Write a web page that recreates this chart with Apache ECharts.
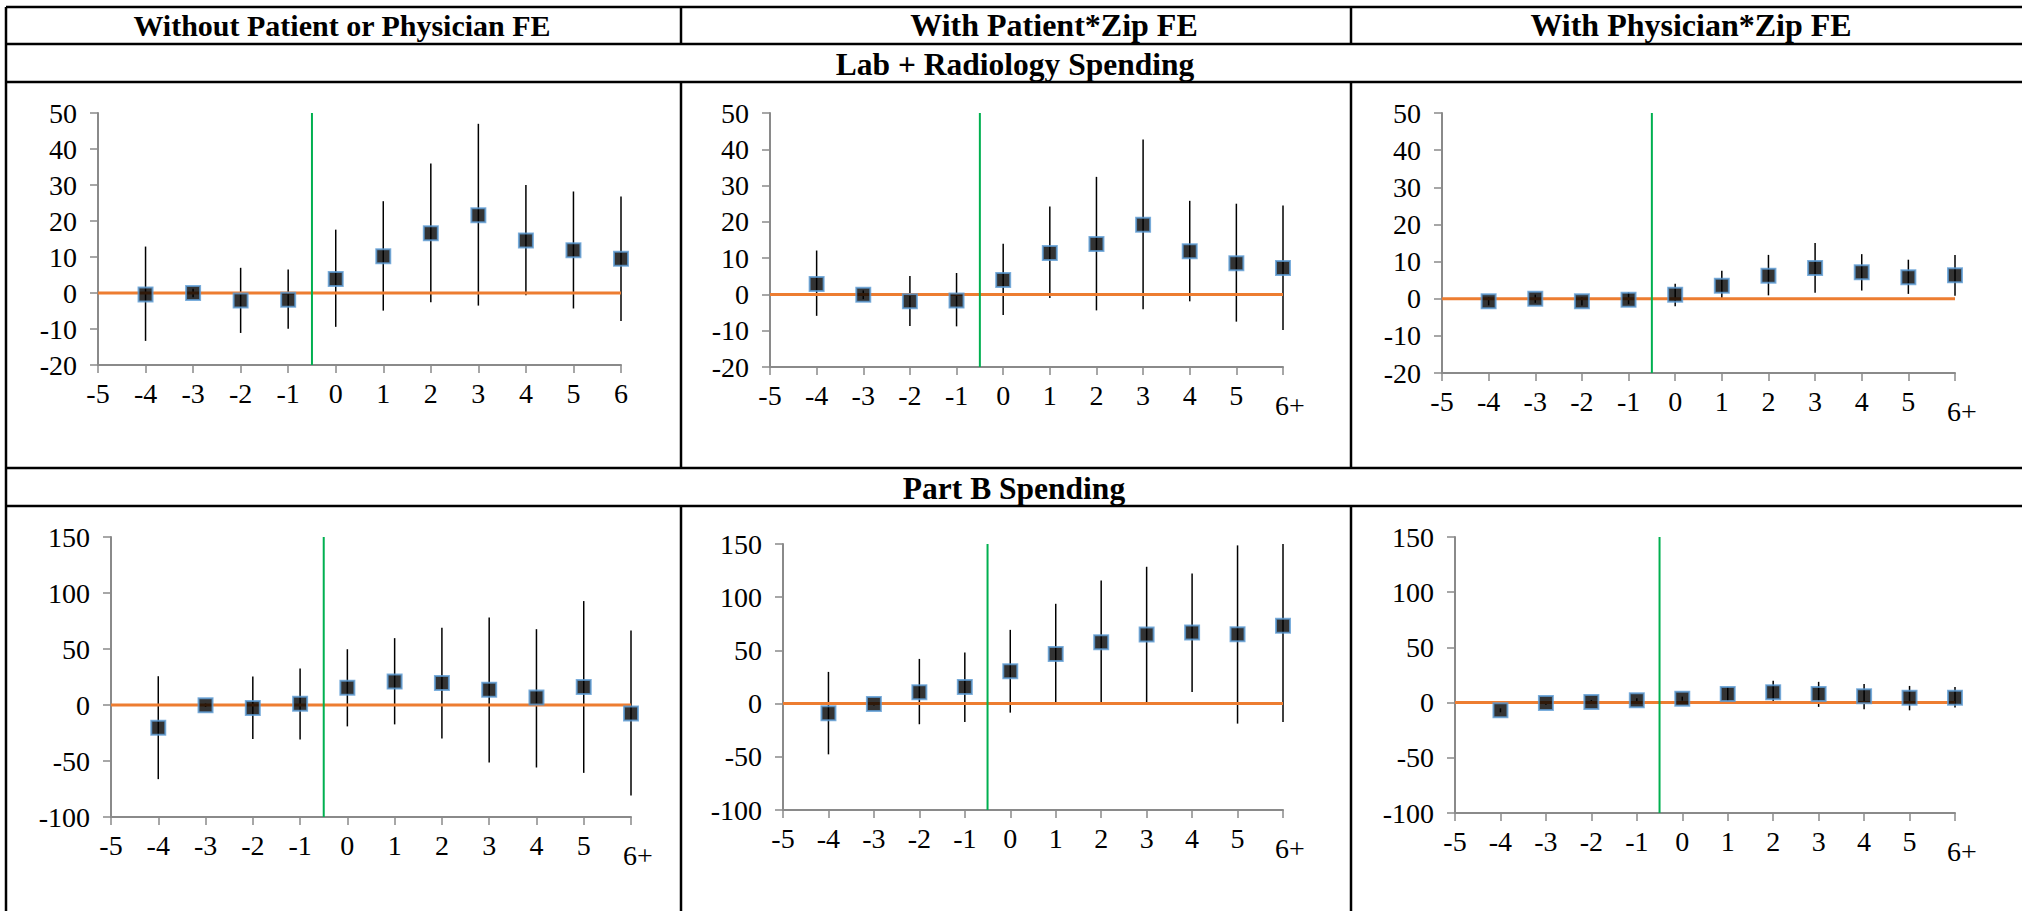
<!DOCTYPE html>
<html>
<head>
<meta charset="utf-8">
<title>Event-study estimates: Lab + Radiology and Part B spending</title>
<script src="https://cdn.jsdelivr.net/npm/echarts@6/dist/echarts.min.js"></script>
<style>
  html, body { margin: 0; padding: 0; background: #ffffff; }
  #chart { width: 2022px; height: 911px; }
</style>
</head>
<body>
<div id="chart"></div>
<script>
// Event time (years relative to the switch) and axis tick labels
const periods = [-4, -3, -2, -1, 0, 1, 2, 3, 4, 5, 6];
const xTicksPlain = ['-5', '-4', '-3', '-2', '-1', '0', '1', '2', '3', '4', '5', '6'];
const xTicksPlus  = ['-5', '-4', '-3', '-2', '-1', '0', '1', '2', '3', '4', '5', '6+'];

const columnTitles = ['Without Patient or Physician FE', 'With Patient*Zip FE', 'With Physician*Zip FE'];
const sectionTitles = ['Lab + Radiology Spending', 'Part B Spending'];

// Lab + Radiology spending: point estimates and 95% CI bounds
const labNoFE    = [-0.4, 0.0, -2.1, -1.9, 3.9, 10.2, 16.6, 21.6, 14.6, 11.9, 9.5];
const labNoFELo  = [-13.3, -1.2, -11.1, -9.9, -9.4, -4.9, -2.6, -3.5, -0.6, -4.3, -7.8];
const labNoFEHi  = [12.9, 1.2, 7.0, 6.5, 17.6, 25.5, 36.0, 47.0, 30.0, 28.2, 26.8];

const labPat     = [2.9, -0.1, -1.9, -1.7, 4.0, 11.4, 13.9, 19.2, 11.9, 8.6, 7.3];
const labPatLo   = [-5.9, -1.3, -8.7, -8.8, -5.7, -1.0, -4.4, -4.1, -1.9, -7.5, -9.8];
const labPatHi   = [12.1, 1.1, 5.1, 5.9, 14.0, 24.2, 32.4, 42.7, 25.8, 25.0, 24.5];

const labPhy     = [-0.7, 0.0, -0.7, -0.3, 1.1, 3.5, 6.2, 8.3, 7.1, 5.8, 6.3];
const labPhyLo   = [-1.8, -1.1, -1.8, -1.5, -2.0, 0.0, 0.9, 1.6, 2.2, 1.3, 0.8];
const labPhyHi   = [0.4, 1.1, 0.4, 1.7, 4.0, 7.5, 11.8, 15.0, 12.0, 10.5, 11.8];

// Part B spending: point estimates and 95% CI bounds
const partBNoFE   = [-20.3, -0.3, -2.7, 1.2, 15.5, 20.9, 19.7, 13.7, 6.6, 16.1, -7.5];
const partBNoFELo = [-66.2, -1.8, -30.4, -30.7, -19.1, -17.3, -29.8, -51.3, -55.8, -60.6, -80.8];
const partBNoFEHi = [25.7, 1.3, 25.4, 32.5, 49.8, 59.7, 68.9, 78.2, 67.7, 92.8, 66.5];

const partBPat    = [-9.1, -0.3, 10.7, 15.7, 30.4, 46.7, 57.7, 64.9, 66.8, 65.2, 73.1];
const partBPatLo  = [-47.7, -1.8, -19.4, -17.3, -8.5, 0.6, 0.6, 1.3, 11.0, -18.8, -17.3];
const partBPatHi  = [29.8, 1.3, 42.0, 48.0, 69.3, 93.8, 115.7, 128.6, 122.3, 148.7, 150.0];

const partBPhy    = [-7.0, -0.3, 0.6, 2.1, 3.6, 7.9, 9.4, 7.9, 5.8, 4.5, 4.5];
const partBPhyLo  = [-8.8, -2.0, -1.2, 0.3, 1.8, 0.6, 0.6, -3.9, -6.1, -7.0, -4.5];
const partBPhyHi  = [-5.2, 1.5, 2.4, 3.9, 5.4, 14.2, 19.7, 18.8, 16.9, 15.1, 14.2];

// Y-axis ranges for the two outcome rows
const labRange   = { min: -20, max: 50, interval: 10 };
const partBRange = { min: -100, max: 150, interval: 50 };

// Panel placement on the page (pixels)
const panels = [
  { est: labNoFE,   lo: labNoFELo,   hi: labNoFEHi,   ticks: xTicksPlain, range: labRange,   box: [98, 113, 523, 252] },
  { est: labPat,    lo: labPatLo,    hi: labPatHi,    ticks: xTicksPlus,  range: labRange,   box: [770, 113, 513, 254] },
  { est: labPhy,    lo: labPhyLo,    hi: labPhyHi,    ticks: xTicksPlus,  range: labRange,   box: [1442, 113, 513, 260] },
  { est: partBNoFE, lo: partBNoFELo, hi: partBNoFEHi, ticks: xTicksPlus,  range: partBRange, box: [111, 537, 520, 280] },
  { est: partBPat,  lo: partBPatLo,  hi: partBPatHi,  ticks: xTicksPlus,  range: partBRange, box: [783, 544, 500, 266] },
  { est: partBPhy,  lo: partBPhyLo,  hi: partBPhyHi,  ticks: xTicksPlus,  range: partBRange, box: [1455, 537, 500, 276] }
];

const FONT = 'Liberation Serif, Times New Roman, serif';
const TICK_FONT_SIZE = 28;
const AXIS_GREY = '#8a8a8a';
const ORANGE = '#ED7D31';
const GREEN = '#00B050';

// Every tick label goes through the same rich style so size and face are explicit
const tickRich = {
  t:    { fontSize: TICK_FONT_SIZE, fontFamily: FONT, color: '#000' },
  plus: { fontSize: TICK_FONT_SIZE, fontFamily: FONT, color: '#000', padding: [10, 0, 0, 14] }
};

const grids = [], xAxes = [], yAxes = [], series = [];

panels.forEach((p, k) => {
  const [left, top, width, height] = p.box;
  grids.push({ left, top, width, height, containLabel: false });

  const labels = p.ticks;
  xAxes.push({
    gridIndex: k, type: 'value', min: -5, max: 6, interval: 1,
    axisLine: { onZero: false, lineStyle: { color: AXIS_GREY, width: 2 } },
    axisTick: { show: true, length: 8, lineStyle: { color: AXIS_GREY, width: 1.5 } },
    splitLine: { show: false },
    axisLabel: {
      margin: 14, color: '#000', fontSize: TICK_FONT_SIZE, fontFamily: FONT,
      formatter: v => {
        const s = labels[Math.round(v) + 5];
        return s === '6+' ? '{plus|6+}' : '{t|' + s + '}';
      },
      rich: tickRich
    }
  });

  yAxes.push({
    gridIndex: k, type: 'value',
    min: p.range.min, max: p.range.max, interval: p.range.interval,
    axisLine: { show: true, onZero: false, lineStyle: { color: AXIS_GREY, width: 2 } },
    axisTick: { show: true, length: 8, lineStyle: { color: AXIS_GREY, width: 1.5 } },
    splitLine: { show: false },
    axisLabel: {
      margin: 21, color: '#000', fontSize: TICK_FONT_SIZE, fontFamily: FONT,
      formatter: v => '{t|' + v + '}',
      rich: tickRich
    }
  });

  // Confidence-interval whiskers
  series.push({
    type: 'custom', xAxisIndex: k, yAxisIndex: k, z: 2, silent: true,
    encode: { x: 0, y: [1, 2] },
    data: periods.map((t, i) => [t, p.lo[i], p.hi[i]]),
    renderItem: (params, api) => {
      const a = api.coord([api.value(0), api.value(1)]);
      const b = api.coord([api.value(0), api.value(2)]);
      return {
        type: 'line',
        shape: { x1: a[0], y1: a[1], x2: b[0], y2: b[1] },
        style: { stroke: '#000', lineWidth: 1.5 }
      };
    }
  });

  // Zero reference line
  series.push({
    type: 'line', xAxisIndex: k, yAxisIndex: k, z: 3, silent: true,
    symbol: 'none', data: [[-5, 0], [6, 0]],
    lineStyle: { color: ORANGE, width: 3 }
  });

  // Event date marker between -1 and 0
  series.push({
    type: 'line', xAxisIndex: k, yAxisIndex: k, z: 3, silent: true,
    symbol: 'none', data: [[-0.5, p.range.min], [-0.5, p.range.max]],
    lineStyle: { color: GREEN, width: 2 }
  });

  // Point estimates
  series.push({
    type: 'scatter', xAxisIndex: k, yAxisIndex: k, z: 5, silent: true,
    symbol: 'rect', symbolSize: 14,
    data: periods.map((t, i) => [t, p.est[i]]),
    itemStyle: { color: '#000', borderColor: '#5B9BD5', borderWidth: 2 }
  });
});

// Table rules and headings
const W = 2022, H = 911;
const rule = (x1, y1, x2, y2) => ({
  type: 'line', silent: true, z: 10,
  shape: { x1, y1, x2, y2 },
  style: { stroke: '#000', lineWidth: 2.5 }
});
const heading = (text, x, y, size) => ({
  type: 'text', silent: true, z: 10, x, y,
  style: {
    text, fill: '#000', fontSize: size, fontWeight: 'bold', fontFamily: FONT,
    align: 'center', verticalAlign: 'middle'
  }
});

const graphics = [
  rule(6, 7, W, 7), rule(6, 44, W, 44), rule(6, 82, W, 82),
  rule(6, 468, W, 468), rule(6, 506, W, 506),
  rule(6, 7, 6, H),
  rule(681, 7, 681, 44), rule(681, 82, 681, 468), rule(681, 506, 681, H),
  rule(1351, 7, 1351, 44), rule(1351, 82, 1351, 468), rule(1351, 506, 1351, H),
  heading(columnTitles[0], 342, 25, 30),
  heading(columnTitles[1], 1054, 25, 32),
  heading(columnTitles[2], 1691, 25, 32),
  heading(sectionTitles[0], 1015, 64, 31.5),
  heading(sectionTitles[1], 1014, 488, 31.5)
];

const chart = echarts.init(document.getElementById('chart'), null, { renderer: 'svg', width: W, height: H });
chart.setOption({
  animation: false,
  backgroundColor: '#ffffff',
  textStyle: { fontFamily: FONT },
  grid: grids,
  xAxis: xAxes,
  yAxis: yAxes,
  series: series,
  graphic: graphics
});
</script>
</body>
</html>
